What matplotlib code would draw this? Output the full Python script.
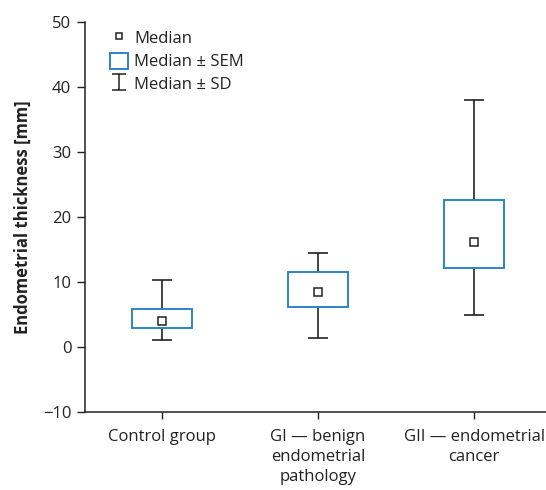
import matplotlib
matplotlib.use("Agg")
import matplotlib.pyplot as plt
from matplotlib.lines import Line2D
from matplotlib.patches import Rectangle
from matplotlib.path import Path
import numpy as np

categories = ["Control group", "GI \u2014 benign\nendometrial\npathology", "GII \u2014 endometrial\ncancer"]
median = [4.0, 8.5, 16.2]
sem_low = [2.9, 6.1, 12.2]
sem_high = [5.9, 11.6, 22.7]
sd_low = [1.1, 1.4, 4.9]
sd_high = [10.3, 14.4, 38.0]
yticks = [-10, 0, 10, 20, 30, 40, 50]

plt.rcParams['font.family'] = ['Open Sans', 'DejaVu Sans']
BLUE = "#2a85c8"
DARK = "#222222"

fig = plt.figure(figsize=(5.46, 4.90), dpi=100)
ax = fig.add_axes([0.156, 0.159, 0.844, 0.796])

x = np.arange(len(categories))
med = np.array(median)
ax.errorbar(x, med, yerr=[med - np.array(sd_low), np.array(sd_high) - med],
            fmt='none', ecolor=DARK, elinewidth=1.2, capsize=7, capthick=1.2, zorder=1)
ax.bar(x, np.array(sem_high) - np.array(sem_low), bottom=sem_low, width=0.385,
       facecolor='white', edgecolor=BLUE, linewidth=1.4, zorder=2)
ax.plot(x, med, linestyle='none', marker='s', markersize=5.5, markerfacecolor='white',
        markeredgecolor=DARK, markeredgewidth=1.1, zorder=3)

ax.set_xlim(-0.49, 2.46)
ax.set_ylim(-10, 50)
ax.set_yticks(yticks)
ax.set_xticks(x)
ax.set_xticklabels(categories, fontsize=12, color=DARK, linespacing=1.35)
ax.tick_params(axis='y', labelsize=12, colors=DARK, length=6, width=1, pad=4)
ax.tick_params(axis='x', colors=DARK, length=5, width=1, pad=7)
for s in ['top', 'right']:
    ax.spines[s].set_visible(False)
for s in ['left', 'bottom']:
    ax.spines[s].set_color(DARK)
    ax.spines[s].set_linewidth(1.1)
ax.set_ylabel("Endometrial thickness [mm]", fontsize=12, fontweight='bold', color=DARK, labelpad=8)

ibeam = Path([(-0.42, -0.5), (0.42, -0.5), (0, -0.5), (0, 0.5), (-0.42, 0.5), (0.42, 0.5)],
             [Path.MOVETO, Path.LINETO, Path.MOVETO, Path.LINETO, Path.MOVETO, Path.LINETO])
h1 = Line2D([], [], linestyle='none', marker='s', markersize=5, markerfacecolor='white',
            markeredgecolor=DARK, markeredgewidth=1.1)
h2 = Rectangle((0, 0), 1, 1, facecolor='white', edgecolor=BLUE, linewidth=1.4)
h3 = Line2D([], [], linestyle='none', marker=ibeam, markersize=11.5, markerfacecolor='none',
            markeredgecolor=DARK, markeredgewidth=1.1)
leg = ax.legend([h1, h2, h3], ["Median", "Median \u00b1 SEM", "Median \u00b1 SD"],
                loc='upper left', bbox_to_anchor=(0.025, 1.015), frameon=False, fontsize=12,
                handlelength=1.1, handleheight=1.1, handletextpad=0.35, labelspacing=0.32,
                labelcolor=DARK, borderpad=0.3)

fig.savefig("out.png", dpi=100)
